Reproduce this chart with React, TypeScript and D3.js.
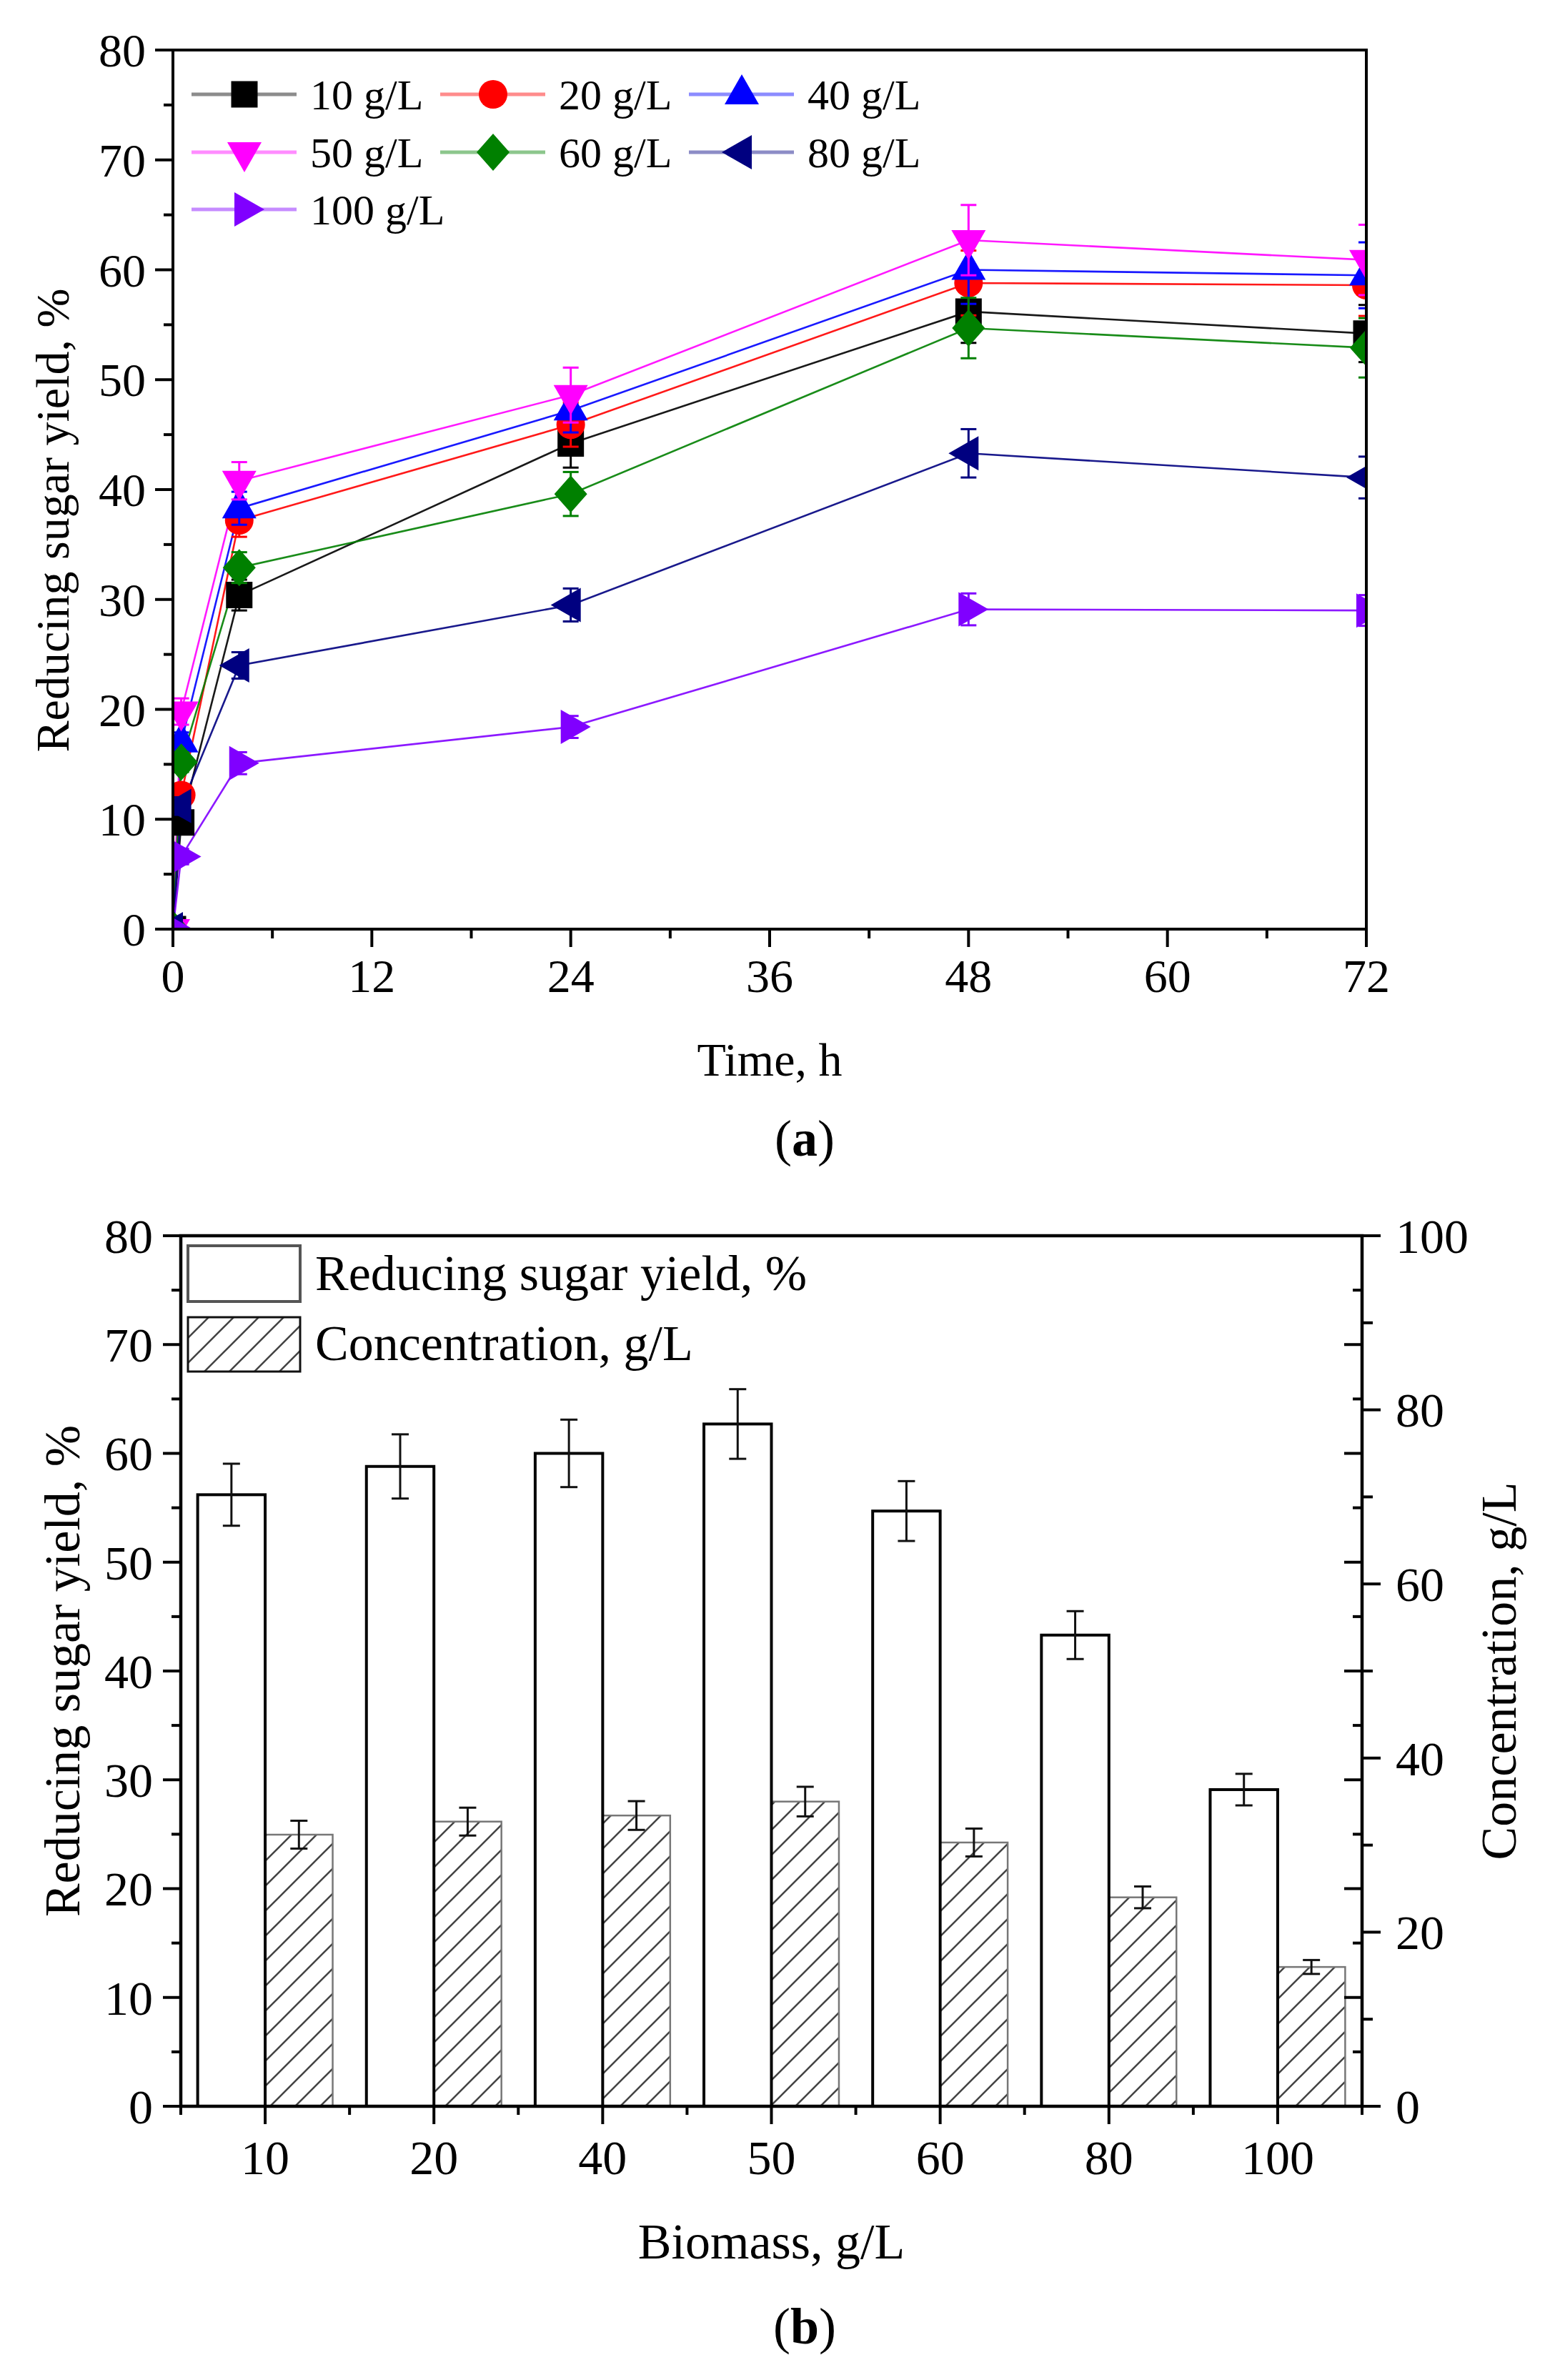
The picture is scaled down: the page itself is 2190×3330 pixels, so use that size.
import React from 'react';
import * as d3 from 'd3';

// ---------- DATA: panel (a) ----------
const times = [0, 0.5, 4, 24, 48, 72];
const seriesNames = ['10 g/L', '20 g/L', '40 g/L', '50 g/L', '60 g/L', '80 g/L', '100 g/L'];
const seriesColors = ['#000000', '#FF0000', '#0000FF', '#FF00FF', '#008000', '#000080', '#8000FF'];
const seriesShapes = ['square', 'circle', 'triangleUp', 'triangleDown', 'diamond', 'triangleLeft', 'triangleRight'];
const yield10 = [0, 9.7, 30.4, 44.2, 56.2, 54.2];
const yield20 = [0, 12.2, 37.2, 45.9, 58.8, 58.6];
const yield40 = [0, 17.0, 38.3, 47.2, 60.0, 59.5];
const yield50 = [0, 19.8, 40.8, 48.6, 62.7, 60.9];
const yield60 = [0, 15.2, 32.9, 39.6, 54.7, 52.9];
const yield80 = [0, 11.2, 24.0, 29.5, 43.3, 41.1];
const yield100 = [0, 6.6, 15.1, 18.4, 29.1, 29.0];
const err10 = [0, 0.8, 1.4, 2.2, 2.85, 2.6];
const err20 = [0, 0.9, 1.5, 2.0, 2.95, 2.8];
const err40 = [0, 0.9, 1.5, 2.0, 3.1, 3.0];
const err50 = [0, 1.2, 1.7, 2.5, 3.2, 3.2];
const err60 = [0, 0.9, 1.4, 2.0, 2.75, 2.7];
const err80 = [0, 0.8, 1.2, 1.5, 2.2, 1.9];
const err100 = [0, 0.7, 1.0, 1.0, 1.45, 1.4];
const seriesValues = [yield10, yield20, yield40, yield50, yield60, yield80, yield100];
const seriesErrors = [err10, err20, err40, err50, err60, err80, err100];
const timeTicks = [0, 12, 24, 36, 48, 60, 72];
const timeMinor = [6, 18, 30, 42, 54, 66];
const yieldTicks = [0, 10, 20, 30, 40, 50, 60, 70, 80];
const yieldMinor = [5, 15, 25, 35, 45, 55, 65, 75];

// ---------- DATA: panel (b) ----------
const biomass = ['10', '20', '40', '50', '60', '80', '100'];
const barYield = [56.2, 58.8, 60.0, 62.7, 54.7, 43.3, 29.1];
const barYieldErr = [2.85, 2.95, 3.1, 3.2, 2.75, 2.2, 1.45];
const barConc = [31.2, 32.7, 33.4, 35.0, 30.3, 24.0, 16.0];
const barConcErr = [1.6, 1.6, 1.65, 1.7, 1.6, 1.25, 0.8];
const concTicks = [0, 20, 40, 60, 80, 100];
const concMinor = [10, 30, 50, 70, 90];

const FONT = "'Liberation Serif', 'Times New Roman', serif";
const W = 2190;
const H = 3330;
const A = { left: 242, right: 1912, top: 70, bottom: 1300 };
const B = { left: 253, right: 1906, top: 1729, bottom: 2947 };

function markerPath(shape: string, cx: number, cy: number): string {
  const p = d3.path();
  switch (shape) {
    case 'square':
      p.rect(cx - 18.5, cy - 18.5, 37, 37);
      break;
    case 'circle':
      p.moveTo(cx + 20, cy);
      p.arc(cx, cy, 20, 0, 2 * Math.PI);
      break;
    case 'triangleUp':
      p.moveTo(cx, cy - 28); p.lineTo(cx + 24, cy + 14); p.lineTo(cx - 24, cy + 14); p.closePath();
      break;
    case 'triangleDown':
      p.moveTo(cx, cy + 28); p.lineTo(cx + 24, cy - 14); p.lineTo(cx - 24, cy - 14); p.closePath();
      break;
    case 'triangleLeft':
      p.moveTo(cx - 28, cy); p.lineTo(cx + 14, cy - 24); p.lineTo(cx + 14, cy + 24); p.closePath();
      break;
    case 'triangleRight':
      p.moveTo(cx + 28, cy); p.lineTo(cx - 14, cy - 24); p.lineTo(cx - 14, cy + 24); p.closePath();
      break;
    case 'diamond':
      p.moveTo(cx, cy - 26); p.lineTo(cx + 23, cy); p.lineTo(cx, cy + 26); p.lineTo(cx - 23, cy); p.closePath();
      break;
  }
  return p.toString();
}

function PanelA() {
  const x = d3.scaleLinear().domain([0, 72]).range([A.left, A.right]);
  const y = d3.scaleLinear().domain([0, 80]).range([A.bottom, A.top]);
  const line = d3.line<number>().x((_, i) => x(times[i])).y((d) => y(d));
  const legendCols = [268, 616, 964];
  const legendRows = [132, 213, 293];
  return (
    <g>
      <defs>
        <clipPath id="clipA">
          <rect x={A.left} y={A.top} width={A.right - A.left} height={A.bottom - A.top} />
        </clipPath>
      </defs>
      <g clipPath="url(#clipA)">
        {seriesValues.map((vals, s) => (
          <path key={'l' + s} d={line(vals) || ''} fill="none" stroke={seriesColors[s]} strokeWidth={2.6} strokeOpacity={0.9} />
        ))}
        {seriesValues.map((vals, s) => (
          <g key={'m' + s}>
            {vals.map((v, i) => {
              const e = seriesErrors[s][i];
              const cx = x(times[i]);
              return (
                <g key={i}>
                  {e > 0 && (
                    <g stroke={seriesColors[s]} strokeWidth={3}>
                      <line x1={cx} x2={cx} y1={y(v - e)} y2={y(v + e)} />
                      <line x1={cx - 11} x2={cx + 11} y1={y(v - e)} y2={y(v - e)} />
                      <line x1={cx - 11} x2={cx + 11} y1={y(v + e)} y2={y(v + e)} />
                    </g>
                  )}
                  <path d={markerPath(seriesShapes[s], cx, y(v))} fill={seriesColors[s]} />
                </g>
              );
            })}
          </g>
        ))}
      </g>
      {/* frame */}
      <rect x={A.left} y={A.top} width={A.right - A.left} height={A.bottom - A.top} fill="none" stroke="#000" strokeWidth={4} />
      {/* ticks */}
      <g stroke="#000" strokeWidth={4}>
        {timeTicks.map((t) => <line key={'xt' + t} x1={x(t)} x2={x(t)} y1={A.bottom} y2={A.bottom + 25} />)}
        {timeMinor.map((t) => <line key={'xm' + t} x1={x(t)} x2={x(t)} y1={A.bottom} y2={A.bottom + 13} />)}
        {yieldTicks.map((t) => <line key={'yt' + t} x1={A.left - 25} x2={A.left} y1={y(t)} y2={y(t)} />)}
        {yieldMinor.map((t) => <line key={'ym' + t} x1={A.left - 13} x2={A.left} y1={y(t)} y2={y(t)} />)}
      </g>
      <g fontFamily={FONT} fontSize={66} fill="#000">
        {timeTicks.map((t) => (
          <text key={'xl' + t} x={x(t)} y={1388} textAnchor="middle">{t}</text>
        ))}
        {yieldTicks.map((t) => (
          <text key={'yl' + t} x={204} y={y(t)} dy="0.35em" textAnchor="end">{t}</text>
        ))}
        <text x={(A.left + A.right) / 2} y={1505} textAnchor="middle">Time, h</text>
        <text transform={`translate(96,728) rotate(-90)`} textAnchor="middle">Reducing sugar yield, %</text>
      </g>
      {/* legend */}
      <g fontFamily={FONT} fontSize={60}>
        {seriesNames.map((name, s) => {
          const cx0 = legendCols[s % 3];
          const cy = legendRows[Math.floor(s / 3)];
          return (
            <g key={'lg' + s}>
              <line x1={cx0} x2={cx0 + 147} y1={cy} y2={cy} stroke={seriesColors[s]} strokeOpacity={0.45} strokeWidth={5} />
              <path d={markerPath(seriesShapes[s], cx0 + 74, cy)} fill={seriesColors[s]} />
              <text x={cx0 + 166} y={cy + 21}>{name}</text>
            </g>
          );
        })}
      </g>
      <text x={1126} y={1617} textAnchor="middle" fontFamily={FONT} fontSize={72}>
        (<tspan fontWeight="bold">a</tspan>)
      </text>
    </g>
  );
}

function PanelB() {
  const x0 = d3.scaleBand<string>().domain(biomass).range([B.left, B.right]).paddingInner(0.2).paddingOuter(0.1);
  const x1 = d3.scaleBand<string>().domain(['yield', 'conc']).range([0, x0.bandwidth()]);
  const yL = d3.scaleLinear().domain([0, 80]).range([B.bottom, B.top]);
  const yR = d3.scaleLinear().domain([0, 100]).range([B.bottom, B.top]);
  const step = x0.step();
  const boundaries = d3.range(biomass.length + 1).map((i) => B.left + i * step);
  const bw = x1.bandwidth();
  return (
    <g>
      <defs>
        <pattern id="hatch" patternUnits="userSpaceOnUse" width={35} height={35}>
          <path d="M-5,5 L5,-5 M0,35 L35,0 M30,40 L40,30" stroke="#444" strokeWidth={2.6} />
        </pattern>
      </defs>
      {/* hatched concentration bars */}
      {biomass.map((b, i) => {
        const bx = (x0(b) as number) + (x1('conc') as number);
        return (
          <rect key={'c' + b} x={bx} y={yR(barConc[i])} width={bw} height={yR(0) - yR(barConc[i])}
            fill="url(#hatch)" stroke="#777" strokeWidth={2.5} />
        );
      })}
      {/* white yield bars */}
      {biomass.map((b, i) => {
        const bx = (x0(b) as number) + (x1('yield') as number);
        return (
          <rect key={'y' + b} x={bx} y={yL(barYield[i])} width={bw} height={yL(0) - yL(barYield[i])}
            fill="#fff" stroke="#000" strokeWidth={4} />
        );
      })}
      {/* error bars */}
      <g stroke="#111" strokeWidth={3}>
        {biomass.map((b, i) => {
          const cx = (x0(b) as number) + (x1('yield') as number) + bw / 2;
          const lo = yL(barYield[i] - barYieldErr[i]);
          const hi = yL(barYield[i] + barYieldErr[i]);
          return (
            <g key={'ey' + b}>
              <line x1={cx} x2={cx} y1={lo} y2={hi} />
              <line x1={cx - 12} x2={cx + 12} y1={lo} y2={lo} />
              <line x1={cx - 12} x2={cx + 12} y1={hi} y2={hi} />
            </g>
          );
        })}
        {biomass.map((b, i) => {
          const cx = (x0(b) as number) + (x1('conc') as number) + bw / 2;
          const lo = yR(barConc[i] - barConcErr[i]);
          const hi = yR(barConc[i] + barConcErr[i]);
          return (
            <g key={'ec' + b}>
              <line x1={cx} x2={cx} y1={lo} y2={hi} />
              <line x1={cx - 12} x2={cx + 12} y1={lo} y2={lo} />
              <line x1={cx - 12} x2={cx + 12} y1={hi} y2={hi} />
            </g>
          );
        })}
      </g>
      {/* frame */}
      <rect x={B.left} y={B.top} width={B.right - B.left} height={B.bottom - B.top} fill="none" stroke="#000" strokeWidth={4.5} />
      <g stroke="#000" strokeWidth={4}>
        {biomass.map((b) => {
          const cx = (x0(b) as number) + x0.bandwidth() / 2;
          return <line key={'bt' + b} x1={cx} x2={cx} y1={B.bottom} y2={B.bottom + 25} />;
        })}
        {boundaries.map((bx, i) => <line key={'bb' + i} x1={bx} x2={bx} y1={B.bottom} y2={B.bottom + 12} />)}
        {yieldTicks.map((t) => <line key={'lt' + t} x1={B.left - 25} x2={B.left} y1={yL(t)} y2={yL(t)} />)}
        {yieldMinor.map((t) => <line key={'lm' + t} x1={B.left - 13} x2={B.left} y1={yL(t)} y2={yL(t)} />)}
        {yieldTicks.map((t) => <line key={'ri' + t} x1={B.right - 25} x2={B.right} y1={yL(t)} y2={yL(t)} />)}
        {yieldMinor.map((t) => <line key={'rim' + t} x1={B.right - 13} x2={B.right} y1={yL(t)} y2={yL(t)} />)}
        {concTicks.map((t) => <line key={'rt' + t} x1={B.right} x2={B.right + 26} y1={yR(t)} y2={yR(t)} />)}
        {concMinor.map((t) => <line key={'rm' + t} x1={B.right} x2={B.right + 15} y1={yR(t)} y2={yR(t)} />)}
      </g>
      <g fontFamily={FONT} fontSize={68} fill="#000">
        {biomass.map((b) => (
          <text key={'bl' + b} x={(x0(b) as number) + x0.bandwidth() / 2} y={3042} textAnchor="middle">{b}</text>
        ))}
        {yieldTicks.map((t) => (
          <text key={'ll' + t} x={214} y={yL(t)} dy="0.35em" textAnchor="end">{t}</text>
        ))}
        {concTicks.map((t) => (
          <text key={'rl' + t} x={1953} y={yR(t)} dy="0.35em" textAnchor="start">{t}</text>
        ))}
      </g>
      <g fontFamily={FONT} fontSize={70} fill="#000">
        <text x={(B.left + B.right) / 2} y={3160} textAnchor="middle">Biomass, g/L</text>
        <text transform={`translate(111,${(B.top + B.bottom) / 2}) rotate(-90)`} textAnchor="middle">Reducing sugar yield, %</text>
        <text transform={`translate(2121,${(B.top + B.bottom) / 2}) rotate(-90)`} textAnchor="middle">Concentration, g/L</text>
        {/* legend */}
        <rect x={263} y={1743} width={157} height={78} fill="#fff" stroke="#555" strokeWidth={4} />
        <rect x={263} y={1843} width={157} height={76} fill="url(#hatch)" stroke="#111" strokeWidth={3} />
        <text x={441} y={1805}>Reducing sugar yield, %</text>
        <text x={441} y={1903}>Concentration, g/L</text>
      </g>
      <text x={1126} y={3279} textAnchor="middle" fontFamily={FONT} fontSize={72}>
        (<tspan fontWeight="bold">b</tspan>)
      </text>
    </g>
  );
}

export default function App() {
  return (
    <svg width={W} height={H} viewBox={`0 0 ${W} ${H}`} style={{ position: 'absolute', left: 0, top: 0, background: '#fff' }}>
      <rect x={0} y={0} width={W} height={H} fill="#fff" />
      <PanelA />
      <PanelB />
    </svg>
  );
}
